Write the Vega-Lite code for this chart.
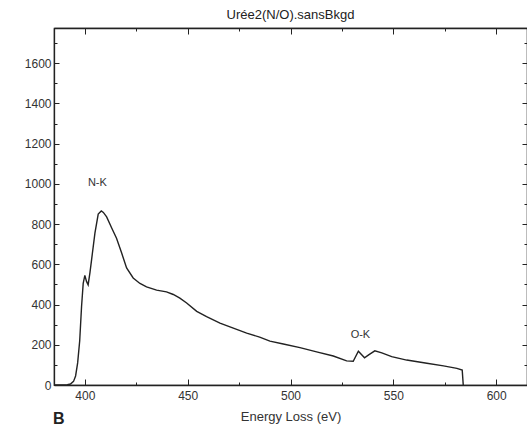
{
  "$schema": "https://vega.github.io/schema/vega-lite/v6.json",
  "width": 473,
  "height": 357,
  "autosize": "none",
  "padding": {"left": 54, "top": 28, "right": 0, "bottom": 43},
  "background": "white",
  "config": {
    "view": {"stroke": "#222", "strokeWidth": 1.2},
    "font": "Liberation Sans"
  },
  "title": {"text": "Urée2(N/O).sansBkgd", "fontSize": 13, "fontWeight": "normal", "font": "Liberation Sans", "color": "#222", "offset": 6, "anchor": "middle"},
  "datasets": {
    "spectrum": [
      {"e": 385, "v": 0}, {"e": 390, "v": 0}, {"e": 391.5, "v": 1}, {"e": 393, "v": 5},
      {"e": 394.5, "v": 18}, {"e": 395.5, "v": 45}, {"e": 396.5, "v": 110}, {"e": 397.5, "v": 220},
      {"e": 398.4, "v": 390}, {"e": 399.2, "v": 505}, {"e": 400, "v": 545}, {"e": 400.8, "v": 515},
      {"e": 401.6, "v": 498}, {"e": 402.5, "v": 560}, {"e": 403.3, "v": 625}, {"e": 404.9, "v": 755},
      {"e": 406.5, "v": 850}, {"e": 408, "v": 865}, {"e": 409, "v": 858}, {"e": 410.6, "v": 836},
      {"e": 413, "v": 782}, {"e": 415.4, "v": 730}, {"e": 417.9, "v": 656}, {"e": 420.3, "v": 582},
      {"e": 423.5, "v": 532}, {"e": 426.8, "v": 505}, {"e": 430, "v": 488}, {"e": 434.9, "v": 472},
      {"e": 439.7, "v": 463}, {"e": 443, "v": 450}, {"e": 446.2, "v": 432}, {"e": 449.5, "v": 408},
      {"e": 454.4, "v": 366}, {"e": 459.2, "v": 340}, {"e": 465.7, "v": 308}, {"e": 472.2, "v": 283},
      {"e": 478.7, "v": 258}, {"e": 485, "v": 238}, {"e": 490, "v": 218}, {"e": 496.5, "v": 204},
      {"e": 504.6, "v": 186}, {"e": 512.7, "v": 165}, {"e": 520.8, "v": 144}, {"e": 527.3, "v": 120},
      {"e": 530.5, "v": 118}, {"e": 533, "v": 168}, {"e": 536, "v": 135}, {"e": 538, "v": 150},
      {"e": 541, "v": 170}, {"e": 544.4, "v": 160}, {"e": 549.2, "v": 141}, {"e": 556.5, "v": 124},
      {"e": 566.3, "v": 108}, {"e": 574.4, "v": 95}, {"e": 580.9, "v": 83}, {"e": 583.5, "v": 74},
      {"e": 584, "v": 0}
    ],
    "labels": [
      {"e": 406.1, "v": 1003, "t": "N-K"},
      {"e": 534, "v": 248, "t": "O-K"}
    ],
    "panel": [
      {"e": 387.3, "v": -192, "t": "B"}
    ]
  },
  "layer": [
    {
      "data": {"name": "spectrum"},
      "mark": {"type": "line", "color": "#222", "strokeWidth": 1.4, "clip": true},
      "encoding": {
        "x": {
          "field": "e", "type": "quantitative",
          "scale": {"domain": [385, 615], "nice": false, "zero": false},
          "axis": {
            "orient": "bottom",
            "values": [400, 425, 450, 475, 500, 525, 550, 575, 600],
            "labelExpr": "datum.value % 50 === 0 ? datum.label : ''",
            "tickSize": {"condition": {"test": "datum.value % 50 === 0", "value": -6}, "value": -3},
            "labelPadding": 11,
            "grid": false,
            "domain": true, "domainColor": "#222", "domainWidth": 1.5,
            "tickColor": "#222", "tickWidth": 1,
            "labelFontSize": 12, "labelColor": "#333", "labelFont": "Liberation Sans",
            "title": "Energy Loss (eV)", "titleFontSize": 13, "titleFontWeight": "normal",
            "titleFont": "Liberation Sans", "titleColor": "#333", "titlePadding": 9
          }
        },
        "y": {
          "field": "v", "type": "quantitative",
          "scale": {"domain": [0, 1775], "nice": false, "zero": true},
          "axis": {
            "orient": "left",
            "values": [0, 100, 200, 300, 400, 500, 600, 700, 800, 900, 1000, 1100, 1200, 1300, 1400, 1500, 1600, 1700],
            "labelExpr": "datum.value % 200 === 0 ? datum.label : ''",
            "format": "d",
            "tickSize": {"condition": {"test": "datum.value % 200 === 0", "value": -5}, "value": -3},
            "labelPadding": 8,
            "grid": false,
            "domain": true, "domainColor": "#222", "domainWidth": 1.3,
            "tickColor": "#222",
            "labelFontSize": 12, "labelColor": "#333", "labelFont": "Liberation Sans",
            "title": null
          }
        }
      }
    },
    {
      "data": {"name": "spectrum"},
      "mark": {"type": "line", "strokeOpacity": 0},
      "encoding": {
        "x": {
          "field": "e", "type": "quantitative",
          "scale": {"domain": [385, 615], "nice": false, "zero": false},
          "axis": {
            "orient": "top",
            "values": [400, 425, 450, 475, 500, 525, 550, 575, 600],
            "labels": false,
            "tickSize": {"condition": {"test": "datum.value % 50 === 0", "value": -6}, "value": -3},
            "grid": false, "domain": true, "domainColor": "#222", "domainWidth": 1.5,
            "tickColor": "#222", "title": null
          }
        },
        "y": {
          "field": "v", "type": "quantitative",
          "scale": {"domain": [0, 1775], "nice": false, "zero": true},
          "axis": {
            "orient": "right",
            "values": [0, 100, 200, 300, 400, 500, 600, 700, 800, 900, 1000, 1100, 1200, 1300, 1400, 1500, 1600, 1700],
            "labels": false,
            "tickSize": {"condition": {"test": "datum.value % 200 === 0", "value": -5}, "value": -3},
            "grid": false, "domain": false,
            "tickColor": "#222", "title": null
          }
        }
      }
    },
    {
      "data": {"name": "labels"},
      "mark": {"type": "text", "fontSize": 11, "font": "Liberation Sans", "color": "#333", "align": "center", "baseline": "middle"},
      "encoding": {
        "x": {"field": "e", "type": "quantitative", "scale": {"domain": [385, 615], "nice": false, "zero": false}, "axis": null},
        "y": {"field": "v", "type": "quantitative", "scale": {"domain": [0, 1775], "nice": false, "zero": true}, "axis": null},
        "text": {"field": "t"}
      }
    },
    {
      "data": {"name": "panel"},
      "mark": {"type": "text", "fontSize": 16, "fontWeight": "bold", "font": "Liberation Sans", "color": "#222", "align": "center", "baseline": "alphabetic", "clip": false},
      "encoding": {
        "x": {"field": "e", "type": "quantitative", "scale": {"domain": [385, 615], "nice": false, "zero": false}, "axis": null},
        "y": {"field": "v", "type": "quantitative", "scale": {"domain": [0, 1775], "nice": false, "zero": true}, "axis": null},
        "text": {"field": "t"}
      }
    }
  ],
  "resolve": {"axis": {"x": "independent", "y": "independent"}}
}
